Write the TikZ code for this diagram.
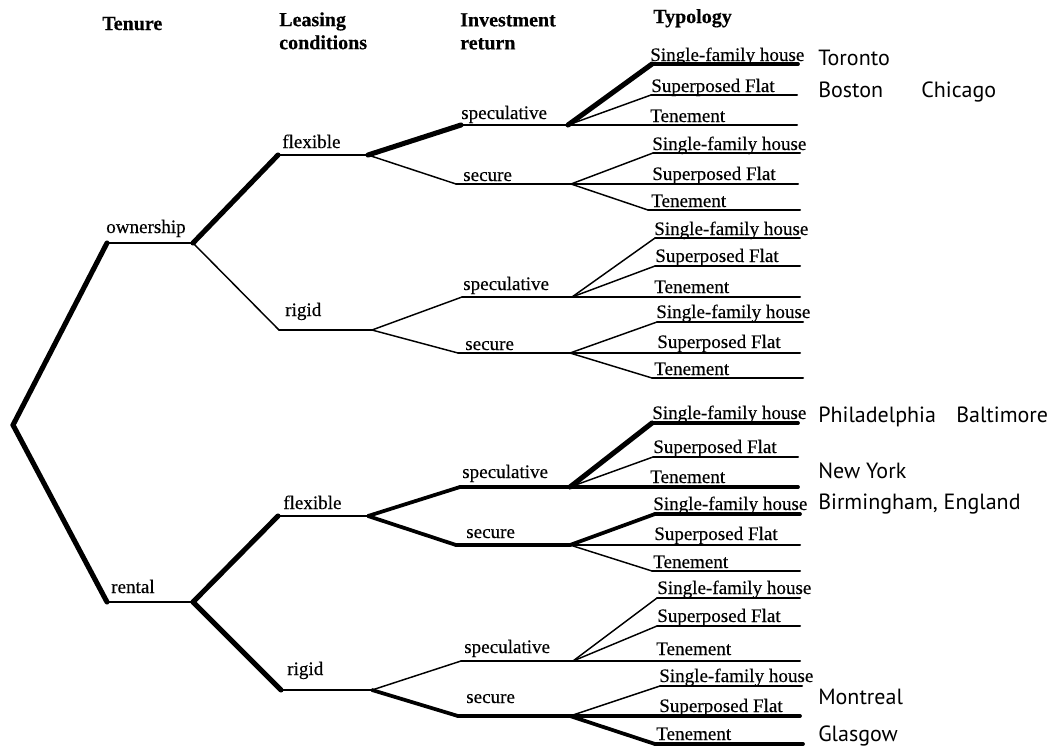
\documentclass[tikz,border=0pt]{standalone}
\usepackage{fontspec}
\setmainfont{Liberation Serif}
\newfontfamily\labfont{Liberation Serif}[FakeBold=0.35]
\newfontfamily\headfont{Liberation Serif Bold}[FakeBold=0.4]
\newfontfamily\citysans{PT Sans}
\begin{document}
\begin{tikzpicture}[x=0.75pt,y=-0.75pt,
  line join=round, line cap=round,
  hair/.style={line width=1.1pt},
  plain/.style={line width=1.5pt},
  mid/.style={line width=2.0pt},
  heavy/.style={line width=2.8pt},
  bold/.style={line width=3.8pt},
  lab/.style={anchor=base west, inner sep=0pt, font=\labfont\fontsize{14.3}{16}\selectfont},
  head/.style={anchor=north west, inner sep=0pt, align=left,
               font=\headfont\fontsize{15}{17.25}\selectfont},
  headb/.style={anchor=base west, inner sep=0pt,
               font=\headfont\fontsize{15}{17.25}\selectfont},
  city/.style={anchor=base west, inner sep=0pt, font=\citysans\fontsize{16.5}{19}\selectfont}]
\useasboundingbox (0,0) rectangle (1057,747);

% ---------- column headings ----------
\node[headb] (hTen) at (102,30) {Tenure};
\node[head]  (hLea) at (279,12) {Leasing\\conditions};
\node[head]  (hInv) at (460,13) {Investment\\return};
\node[headb] (hTyp) at (653,23) {Typology};

% ---------- branch points ----------
\coordinate (R)   at (13,425);
\coordinate (Oc)  at (107,243);  \coordinate (Oe)  at (193,243);
\coordinate (Nc)  at (107,602);  \coordinate (Ne)  at (193,602);
\coordinate (OFc) at (278,155);  \coordinate (OFe) at (368,155);
\coordinate (ORc) at (279,330);  \coordinate (ORe) at (372,330);
\coordinate (NFc) at (278,516);  \coordinate (NFe) at (368,516);
\coordinate (NRc) at (281,690);  \coordinate (NRe) at (372,690);
\coordinate (OFSc) at (461,125); \coordinate (OFSe) at (568,125);
\coordinate (OFCc) at (456,184); \coordinate (OFCe) at (571,184);
\coordinate (ORSc) at (462,297); \coordinate (ORSe) at (572,297);
\coordinate (ORCc) at (458,353); \coordinate (ORCe) at (570,353);
\coordinate (NFSc) at (460,487); \coordinate (NFSe) at (570,487);
\coordinate (NFCc) at (456,545); \coordinate (NFCe) at (570,545);
\coordinate (NRSc) at (461,661); \coordinate (NRSe) at (573,661);
\coordinate (NRCc) at (458,716); \coordinate (NRCe) at (570,716);

% ---------- tenure ----------
\draw[bold]  (R) -- (Oc);
\draw[bold]  (R) -- (Nc);
\draw[mid]   (Oc) -- (Oe);
\draw[mid]   (Nc) -- (Ne);
\node[lab] (own) at (106,233) {ownership};
\node[lab] (ren) at (111,593) {rental};

% ---------- leasing conditions ----------
\draw[bold]  (Oe) -- (OFc);
\draw[hair]  (Oe) -- (ORc);
\draw[bold]  (Ne) -- (NFc);
\draw[bold]  (Ne) -- (NRc);
\draw[mid]   (OFc) -- (OFe);
\draw[plain] (ORc) -- (ORe);
\draw[mid]   (NFc) -- (NFe);
\draw[mid]   (NRc) -- (NRe);
\node[lab] (oflex)  at (282,148) {flexible};
\node[lab] (origid) at (285,316) {rigid};
\node[lab] (nflex)  at (283,509) {flexible};
\node[lab] (nrigid) at (287,675) {rigid};

% ---------- investment return ----------
\draw[bold]  (OFe) -- (OFSc);
\draw[hair]  (OFe) -- (OFCc);
\draw[hair]  (ORe) -- (ORSc);
\draw[hair]  (ORe) -- (ORCc);
\draw[heavy] (NFe) -- (NFSc);
\draw[heavy] (NFe) -- (NFCc);
\draw[hair]  (NRe) -- (NRSc);
\draw[heavy] (NRe) -- (NRCc);
\draw[mid]   (OFSc) -- (OFSe);
\draw[plain] (OFCc) -- (OFCe);
\draw[plain] (ORSc) -- (ORSe);
\draw[plain] (ORCc) -- (ORCe);
\draw[heavy] (NFSc) -- (NFSe);
\draw[heavy] (NFCc) -- (NFCe);
\draw[plain] (NRSc) -- (NRSe);
\draw[heavy] (NRCc) -- (NRCe);
\node[lab] (ofs) at (461,119) {speculative};
\node[lab] (ofc) at (463,181) {secure};
\node[lab] (ors) at (463,290) {speculative};
\node[lab] (orc) at (465,350) {secure};
\node[lab] (nfs) at (462,478) {speculative};
\node[lab] (nfc) at (466,538) {secure};
\node[lab] (nrs) at (464,653) {speculative};
\node[lab] (nrc) at (466,703) {secure};

% ---------- typology: ownership / flexible / speculative ----------
\coordinate (a1c) at (652,64);  \coordinate (a1e) at (798,64);
\coordinate (a2c) at (651,95);  \coordinate (a2e) at (797,95);
\coordinate (a3e) at (797,125);
\draw[bold]  (OFSe) -- (a1c);  \draw[heavy] (a1c) -- (a1e);
\draw[hair]  (OFSe) -- (a2c);  \draw[plain] (a2c) -- (a2e);
\draw[plain] (OFSe) -- (a3e);
\node[lab] (a1) at (650,61)  {Single-family house};
\node[lab] (a2) at (651,92)  {Superposed Flat};
\node[lab] (a3) at (650,122) {Tenement};

% ---------- ownership / flexible / secure ----------
\coordinate (b1c) at (653,153); \coordinate (b1e) at (800,153);
\coordinate (b2e) at (798,184);
\coordinate (b3c) at (648,210); \coordinate (b3e) at (800,210);
\draw[hair]  (OFCe) -- (b1c);  \draw[plain] (b1c) -- (b1e);
\draw[plain] (OFCe) -- (b2e);
\draw[hair]  (OFCe) -- (b3c);  \draw[plain] (b3c) -- (b3e);
\node[lab] (b1) at (652,150) {Single-family house};
\node[lab] (b2) at (652,180) {Superposed Flat};
\node[lab] (b3) at (651,207) {Tenement};

% ---------- ownership / rigid / speculative ----------
\coordinate (c1c) at (655,238); \coordinate (c1e) at (800,238);
\coordinate (c2c) at (655,266); \coordinate (c2e) at (800,266);
\coordinate (c3e) at (800,297);
\draw[hair]  (ORSe) -- (c1c);  \draw[plain] (c1c) -- (c1e);
\draw[hair]  (ORSe) -- (c2c);  \draw[plain] (c2c) -- (c2e);
\draw[plain] (ORSe) -- (c3e);
\node[lab] (c1) at (654,235) {Single-family house};
\node[lab] (c2) at (655,262) {Superposed Flat};
\node[lab] (c3) at (654,293) {Tenement};

% ---------- ownership / rigid / secure ----------
\coordinate (d1c) at (657,322); \coordinate (d1e) at (803,322);
\coordinate (d2e) at (800,353);
\coordinate (d3c) at (652,378); \coordinate (d3e) at (803,378);
\draw[hair]  (ORCe) -- (d1c);  \draw[plain] (d1c) -- (d1e);
\draw[plain] (ORCe) -- (d2e);
\draw[hair]  (ORCe) -- (d3c);  \draw[plain] (d3c) -- (d3e);
\node[lab] (d1) at (656,318) {Single-family house};
\node[lab] (d2) at (657,348) {Superposed Flat};
\node[lab] (d3) at (654,375) {Tenement};

% ---------- rental / flexible / speculative ----------
\coordinate (e1c) at (652,423); \coordinate (e1e) at (798,423);
\coordinate (e2c) at (653,457); \coordinate (e2e) at (798,457);
\coordinate (e3e) at (798,487);
\draw[bold]  (NFSe) -- (e1c);  \draw[heavy] (e1c) -- (e1e);
\draw[hair]  (NFSe) -- (e2c);  \draw[plain] (e2c) -- (e2e);
\draw[heavy] (NFSe) -- (e3e);
\node[lab] (e1) at (652,419) {Single-family house};
\node[lab] (e2) at (653,453) {Superposed Flat};
\node[lab] (e3) at (650,483) {Tenement};

% ---------- rental / flexible / secure ----------
\coordinate (f1c) at (655,514); \coordinate (f1e) at (800,514);
\coordinate (f2e) at (800,545);
\coordinate (f3c) at (652,571); \coordinate (f3e) at (800,571);
\draw[heavy] (NFCe) -- (f1c);  \draw[heavy] (f1c) -- (f1e);
\draw[plain] (NFCe) -- (f2e);
\draw[hair]  (NFCe) -- (f3c);  \draw[plain] (f3c) -- (f3e);
\node[lab] (f1) at (653,510) {Single-family house};
\node[lab] (f2) at (654,540) {Superposed Flat};
\node[lab] (f3) at (653,568) {Tenement};

% ---------- rental / rigid / speculative ----------
\coordinate (g1c) at (657,598); \coordinate (g1e) at (800,598);
\coordinate (g2c) at (657,626); \coordinate (g2e) at (800,626);
\coordinate (g3e) at (800,661);
\draw[hair]  (NRSe) -- (g1c);  \draw[plain] (g1c) -- (g1e);
\draw[hair]  (NRSe) -- (g2c);  \draw[plain] (g2c) -- (g2e);
\draw[plain] (NRSe) -- (g3e);
\node[lab] (g1) at (657,594) {Single-family house};
\node[lab] (g2) at (657,622) {Superposed Flat};
\node[lab] (g3) at (656,655) {Tenement};

% ---------- rental / rigid / secure ----------
\coordinate (h1c) at (660,686); \coordinate (h1e) at (802,686);
\coordinate (h2e) at (800,716);
\coordinate (h3c) at (655,744); \coordinate (h3e) at (803,744);
\draw[hair]  (NRCe) -- (h1c);  \draw[plain] (h1c) -- (h1e);
\draw[heavy] (NRCe) -- (h2e);
\draw[heavy] (NRCe) -- (h3c);  \draw[heavy] (h3c) -- (h3e);
\node[lab] (h1) at (659,682) {Single-family house};
\node[lab] (h2) at (659,712) {Superposed Flat};
\node[lab] (h3) at (656,740) {Tenement};

% ---------- cities ----------
\node[city] (tor) at (818,65)  {Toronto};
\node[city] (bos) at (818,97)  {Boston};
\node[city] (chi) at (921,97)  {Chicago};
\node[city] (phi) at (818,422) {Philadelphia};
\node[city] (bal) at (956,422) {Baltimore};
\node[city] (nyc) at (818,478) {New York};
\node[city] (bir) at (818,509) {Birmingham, England};
\node[city] (mtl) at (818,704) {Montreal};
\node[city] (gla) at (818,741) {Glasgow};
\end{tikzpicture}
\end{document}
